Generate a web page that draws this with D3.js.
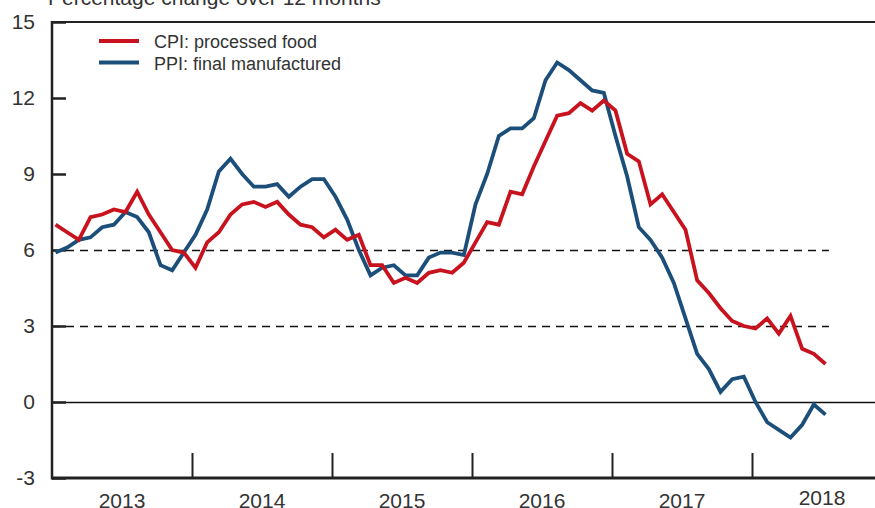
<html>
<head>
<meta charset="utf-8">
<style>
    body { margin: 0; background-color: #fff; }
    svg { display: block; }
    text { font-family: "Liberation Sans", Arial, sans-serif; fill: #333; }
</style>
<script src="https://d3js.org/d3.v7.min.js"></script>
</head>
<body>
<div id="chart"></div>
<script>
// monthly, Jan 2013 - Jul 2018
var cpiFood = [7.0, 6.7, 6.4, 7.3, 7.4, 7.6, 7.5, 8.3, 7.4, 6.7, 6.0, 5.9,
               5.3, 6.3, 6.7, 7.4, 7.8, 7.9, 7.7, 7.9, 7.4, 7.0, 6.9, 6.5,
               6.8, 6.4, 6.6, 5.4, 5.4, 4.7, 4.9, 4.7, 5.1, 5.2, 5.1, 5.5,
               6.3, 7.1, 7.0, 8.3, 8.2, 9.3, 10.3, 11.3, 11.4, 11.8, 11.5, 11.9,
               11.5, 9.8, 9.5, 7.8, 8.2, 7.5, 6.8, 4.8, 4.3, 3.7, 3.2, 3.0,
               2.9, 3.3, 2.7, 3.4, 2.1, 1.9, 1.5];
var ppiFinal = [5.9, 6.1, 6.4, 6.5, 6.9, 7.0, 7.5, 7.3, 6.7, 5.4, 5.2, 5.9,
                6.6, 7.6, 9.1, 9.6, 9.0, 8.5, 8.5, 8.6, 8.1, 8.5, 8.8, 8.8,
                8.1, 7.2, 6.0, 5.0, 5.3, 5.4, 5.0, 5.0, 5.7, 5.9, 5.9, 5.8,
                7.8, 9.0, 10.5, 10.8, 10.8, 11.2, 12.7, 13.4, 13.1, 12.7, 12.3, 12.2,
                10.5, 8.9, 6.9, 6.4, 5.7, 4.7, 3.3, 1.9, 1.3, 0.4, 0.9, 1.0,
                0.0, -0.8, -1.1, -1.4, -0.9, -0.1, -0.5];
var years = ["2013", "2014", "2015", "2016", "2017", "2018"];
var yTicks = [-3, 0, 3, 6, 9, 12, 15];
var dashedAt = [3, 6];
var legendNames = ["CPI: processed food", "PPI: final manufactured"];

var W = 875, H = 508;
var padL = 52, padT = 22, plotBottom = 478;
var red = "#c8131f", blue = "#1c4e7a";

var svg = d3.select("#chart").append("svg")
    .attr("width", W).attr("height", H);

// months since Jan 2013
var x = d3.scaleLinear().domain([0, 72]).range([padL, padL + 140 * 6]);
var y = d3.scaleLinear().domain([-3, 15]).range([plotBottom, padT]);

svg.append("text")
    .attr("x", 48).attr("y", 5)
    .style("font-size", "21px")
    .text("Percentage change over 12 months");

// dashed reference lines
svg.selectAll(".dash").data(dashedAt).enter().append("line")
    .attr("x1", padL).attr("x2", x(66.6))
    .attr("y1", function (d) { return y(d) + 0.5; })
    .attr("y2", function (d) { return y(d) + 0.5; })
    .attr("stroke", "#111").attr("stroke-width", 1.3)
    .attr("stroke-dasharray", "8,6");

// zero line
svg.append("line")
    .attr("x1", padL).attr("x2", W)
    .attr("y1", y(0) + 0.5).attr("y2", y(0) + 0.5)
    .attr("stroke", "#111").attr("stroke-width", 1.4);

// y axis labels + inward ticks
var yAxis = d3.axisLeft(y).tickValues(yTicks)
    .tickSizeInner(-14).tickSizeOuter(0).tickPadding(17)
    .tickFormat(function (d) { return String(d); });
var gy = svg.append("g").attr("transform", "translate(" + padL + ",0)").call(yAxis);
gy.select(".domain").remove();
gy.selectAll("line").attr("stroke", "#222").attr("stroke-width", 2.5);
gy.selectAll("text").style("font-size", "21px").attr("fill", "#333")
    .attr("font-family", null);

// x axis: year separators going up
var xAxis = d3.axisBottom(x).tickValues([12, 24, 36, 48, 60])
    .tickSizeInner(-25).tickSizeOuter(0).tickFormat("");
var gx = svg.append("g").attr("transform", "translate(0," + plotBottom + ")").call(xAxis);
gx.select(".domain").remove();
gx.selectAll("line").attr("stroke", "#222").attr("stroke-width", 2);

svg.selectAll(".year").data(years).enter().append("text")
    .attr("x", function (d, i) { return x(i * 12 + 6); })
    .attr("y", function (d, i) { return i == 5 ? 505 : 508; })
    .attr("text-anchor", "middle")
    .style("font-size", "21px")
    .text(function (d) { return d; });

// frame
svg.append("line").attr("x1", padL).attr("x2", W).attr("y1", padT).attr("y2", padT)
    .attr("stroke", "#222").attr("stroke-width", 2);
svg.append("line").attr("x1", padL).attr("x2", W).attr("y1", plotBottom).attr("y2", plotBottom)
    .attr("stroke", "#222").attr("stroke-width", 3);
svg.append("line").attr("x1", padL).attr("x2", padL).attr("y1", padT - 1).attr("y2", plotBottom + 1.5)
    .attr("stroke", "#222").attr("stroke-width", 2.5);

// series
var line = d3.line()
    .x(function (d, i) { return x(i + 0.3); })
    .y(function (d) { return y(d); });

svg.append("path").datum(ppiFinal)
    .attr("d", line).attr("fill", "none")
    .attr("stroke", blue).attr("stroke-width", 3.8);
svg.append("path").datum(cpiFood)
    .attr("d", line).attr("fill", "none")
    .attr("stroke", red).attr("stroke-width", 3.8);

// legend
var lg = svg.selectAll(".lg").data(legendNames).enter().append("g")
    .attr("transform", function (d, i) { return "translate(99," + (41 + i * 21.5) + ")"; });
lg.append("line").attr("x1", 0).attr("x2", 40)
    .attr("stroke", function (d, i) { return i == 0 ? red : blue; })
    .attr("stroke-width", 4);
lg.append("text").attr("x", 55).attr("y", 7)
    .style("font-size", "18px")
    .text(function (d) { return d; });
</script>
</body>
</html>
